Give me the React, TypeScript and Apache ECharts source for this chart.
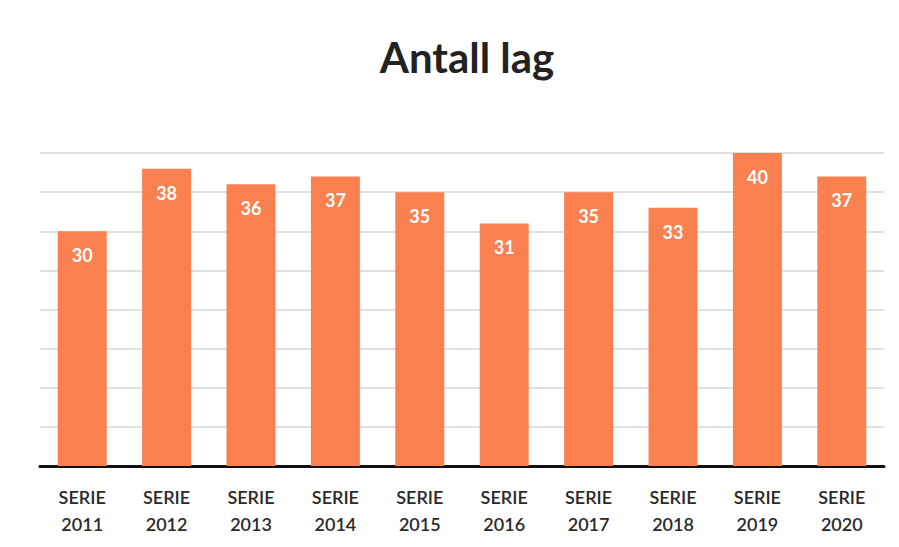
import React, { useEffect, useRef } from "react";
import * as echarts from "echarts";

const categories = ["SERIE\n2011", "SERIE\n2012", "SERIE\n2013", "SERIE\n2014", "SERIE\n2015", "SERIE\n2016", "SERIE\n2017", "SERIE\n2018", "SERIE\n2019", "SERIE\n2020"];
const values = [30, 38, 36, 37, 35, 31, 35, 33, 40, 37];
const yMax = 40;
const yInterval = 5;

export default function App() {
  const ref = useRef<HTMLDivElement>(null);
  useEffect(() => {
    const chart = echarts.init(ref.current!, null, { renderer: "svg" });
    chart.setOption({
      animation: false,
      backgroundColor: "#ffffff",
      title: {
        text: "Antall lag",
        left: 462,
        textAlign: "center",
        top: 31,
        textStyle: { fontFamily: "Lato", fontWeight: "bold", fontSize: 42, color: "#222222" },
      },
      grid: { left: 40, right: 15, top: 153, bottom: 81 },
      xAxis: {
        type: "category",
        data: categories,
        axisLine: { show: true, lineStyle: { color: "#111111", width: 3 } },
        axisTick: { show: false },
        axisLabel: {
          fontFamily: "Lato",
          fontWeight: 600,
          fontSize: 18,
          color: "#2a2a2a",
          lineHeight: 27,
          margin: 17,
          interval: 0,
        },
      },
      yAxis: {
        type: "value",
        min: 0,
        max: yMax,
        interval: yInterval,
        axisLabel: { show: false },
        axisLine: { show: false },
        axisTick: { show: false },
        splitLine: { lineStyle: { color: "#d6d6d6", width: 1.5 } },
      },
      series: [
        {
          type: "bar",
          data: values,
          barCategoryGap: "42%",
          itemStyle: { color: "#FA8050" },
          label: {
            show: true,
            position: "insideTop",
            distance: 15,
            color: "#ffffff",
            fontFamily: "Lato",
            fontWeight: "bold",
            fontSize: 18,
          },
        },
      ],
    });
    return () => chart.dispose();
  }, []);
  return <div ref={ref} style={{ position: "fixed", left: 0, top: 0, width: 899, height: 547 }} />;
}
